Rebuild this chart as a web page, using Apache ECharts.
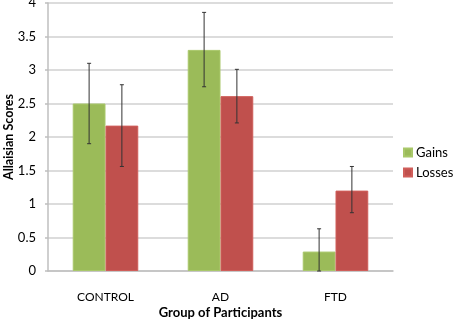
<!DOCTYPE html>
<html>
<head>
<meta charset="utf-8">
<script src="https://cdn.jsdelivr.net/npm/echarts@6/dist/echarts.min.js"></script>
<style>
  html, body { margin: 0; padding: 0; background: #fff; }
  #chart { width: 454px; height: 323px; }
</style>
</head>
<body>
<div id="chart"></div>
<script>
// groups and scores
const groups = ['CONTROL', 'AD', 'FTD'];
const gains = [2.5, 3.3, 0.29];
const losses = [2.17, 2.61, 1.2];
// error bar ends (low, high)
const gainsLow = [1.9, 2.75, 0];
const gainsHigh = [3.1, 3.86, 0.63];
const lossesLow = [1.56, 2.21, 0.87];
const lossesHigh = [2.78, 3.01, 1.56];

const CAT_GAP = 0.43;
const font = 'Lato';

function errData(low, high) {
    return groups.map((g, i) => [i, low[i], high[i]]);
}

function errorBar(side) {
    return function (params, api) {
        const i = api.value(0);
        const band = api.size([1, 0])[0];
        const barW = band * (1 - CAT_GAP) / 2;
        const top = api.coord([i, api.value(2)]);
        const bot = api.coord([i, api.value(1)]);
        const x = top[0] + side * barW / 2;
        const style = { stroke: '#333', lineWidth: 1 };
        return {
            type: 'group',
            children: [
                { type: 'line', shape: { x1: x, y1: top[1], x2: x, y2: bot[1] }, style },
                { type: 'line', shape: { x1: x - 2, y1: top[1], x2: x + 2, y2: top[1] }, style },
                { type: 'line', shape: { x1: x - 2, y1: bot[1], x2: x + 2, y2: bot[1] }, style }
            ]
        };
    };
}

const chart = echarts.init(document.getElementById('chart'));
chart.setOption({
    animation: false,
    textStyle: { fontFamily: font },
    grid: { left: 48, right: 61, top: 3, bottom: 52, outerBoundsMode: 'none' },
    legend: {
        data: ['Gains', 'Losses'],
        orient: 'vertical',
        left: 398,
        top: 141,
        itemWidth: 8,
        itemHeight: 8,
        itemGap: 7,
        icon: 'rect',
        textStyle: { fontSize: 13, color: '#000', fontFamily: font, padding: [0, 0, 0, -1] }
    },
    xAxis: {
        type: 'category',
        data: groups,
        name: 'Group of Participants',
        nameLocation: 'middle',
        nameGap: 35,
        nameMoveOverlap: false,
        nameTextStyle: { fontSize: 13, fontWeight: 'bold', color: '#000', fontFamily: font },
        axisLine: { lineStyle: { color: '#bfbfbf', width: 1.5 } },
        axisTick: { show: false },
        axisLabel: { fontSize: 12, color: '#000', margin: 20 }
    },
    yAxis: {
        type: 'value',
        min: 0,
        max: 4,
        interval: 0.5,
        name: 'Allaisian Scores',
        nameLocation: 'middle',
        nameGap: 33,
        nameMoveOverlap: false,
        nameTextStyle: { fontSize: 12.5, fontWeight: 'bold', color: '#000', fontFamily: font },
        axisLine: { show: true, lineStyle: { color: '#bfbfbf', width: 1.5 } },
        axisTick: { show: true, length: 3, lineStyle: { color: '#bfbfbf', width: 1.5 } },
        axisLabel: { fontSize: 13, color: '#000', margin: 12 },
        splitLine: { lineStyle: { color: '#d0d0d0', width: 1.5 } }
    },
    series: [
        {
            name: 'Gains',
            type: 'bar',
            data: gains,
            barGap: '0%',
            barCategoryGap: (CAT_GAP * 100) + '%',
            itemStyle: { color: '#9BBB59', borderColor: '#a9c86a', borderWidth: 1 }
        },
        {
            name: 'Losses',
            type: 'bar',
            data: losses,
            itemStyle: { color: '#C0504D', borderColor: '#d05e5a', borderWidth: 1 }
        },
        {
            name: 'gainsErr',
            type: 'custom',
            renderItem: errorBar(-1),
            data: errData(gainsLow, gainsHigh),
            encode: { x: 0, y: [1, 2] },
            z: 10
        },
        {
            name: 'lossesErr',
            type: 'custom',
            renderItem: errorBar(1),
            data: errData(lossesLow, lossesHigh),
            encode: { x: 0, y: [1, 2] },
            z: 10
        }
    ]
});
</script>
</body>
</html>
